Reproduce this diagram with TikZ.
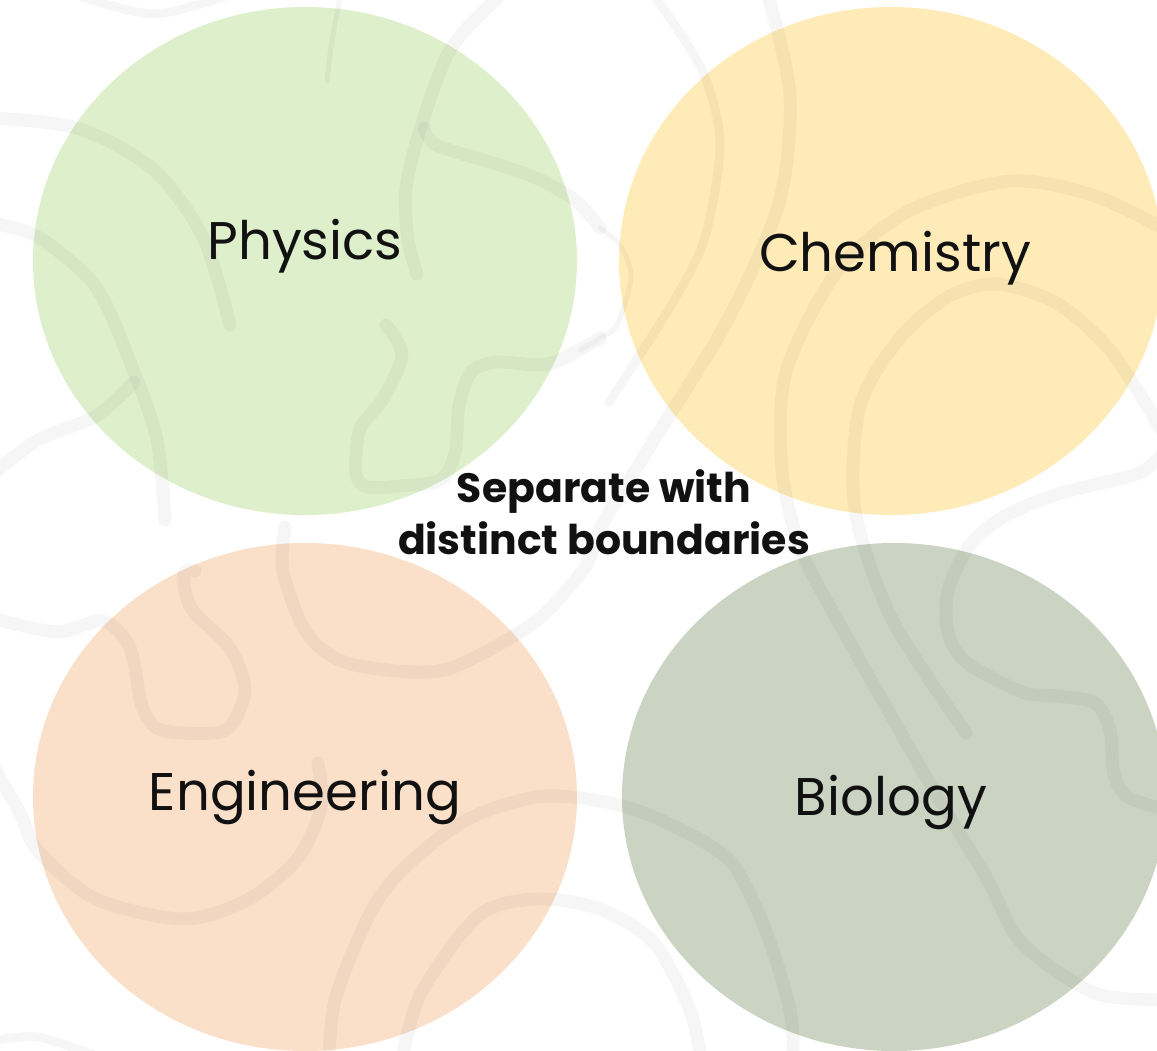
\documentclass[tikz,border=0pt]{standalone}
\usepackage{fontspec}
\setmainfont{Poppins}
\begin{document}
\begin{tikzpicture}[x=1pt,y=-1pt,
  label/.style={text=inkblack,font=\fontsize{53}{60}\selectfont,anchor=center},
  title/.style={text=inkblack,font=\fontsize{41}{52}\selectfont\bfseries,align=center},
  thick swirl/.style={draw=black,draw opacity=0.035,line width=13pt,line cap=round,line join=round},
  mid swirl/.style={draw=black,draw opacity=0.035,line width=9pt,line cap=round,line join=round},
  thin swirl/.style={draw=black,draw opacity=0.035,line width=5pt,line cap=round,line join=round}]
\definecolor{inkblack}{HTML}{111111}
\definecolor{physgreen}{HTML}{DEEFCC}
\definecolor{chemyellow}{HTML}{FEEBB7}
\definecolor{engpeach}{HTML}{FADFC9}
\definecolor{biosage}{HTML}{CBD3C2}
\useasboundingbox (0,0) rectangle (1157,1050);
\fill[white] (0,0) rectangle (1157,1050);
\begin{scope}
\clip (0,0) rectangle (1157,1050);
% four discs
\fill[physgreen] (305,261) ellipse [x radius=272, y radius=254];
\fill[chemyellow] (891,261) ellipse [x radius=272, y radius=254];
\fill[engpeach] (305,797) ellipse [x radius=272, y radius=254];
\fill[biosage] (894,797) ellipse [x radius=272, y radius=254];
% faint background swirls
\draw[mid swirl] plot[smooth] coordinates {(80,-4) (153,14) (226,-4)};
\draw[thin swirl] plot[smooth] coordinates {(340,-2) (332,40) (327,81)};
\draw[thick swirl] plot[smooth] coordinates {(497,-2) (450,50) (420,130) (406,189) (408,240) (417,274)};
\draw[thick swirl] plot[smooth] coordinates {(424,128) (436,145) (490,162) (536,178) (575,200) (600,228)};
\draw[thin swirl] plot[smooth] coordinates {(600,228) (620,245) (631,277) (617,325) (600,338) (580,350)};
\draw[thick swirl] plot[smooth] coordinates {(600,338) (560,360) (536,365) (497,362) (471,372) (459,406) (455,453) (440,480) (400,486) (367,487) (356,473) (360,429) (383,399) (402,355) (386,325)};
\draw[thick swirl] plot[smooth] coordinates {(-8,118) (77,128) (153,169) (203,237) (230,325)};
\draw[thick swirl] plot[smooth] coordinates {(-8,223) (38,237) (96,287) (134,372) (157,440) (165,520)};
\draw[thick swirl] plot[smooth] coordinates {(134,382) (96,416) (38,440) (-8,475)};
\draw[mid swirl] plot[smooth] coordinates {(654,-4) (701,68) (720,142) (705,237) (672,304) (609,402)};
\draw[thick swirl] plot[smooth] coordinates {(768,-4) (790,95) (779,203) (727,321) (654,440) (602,525) (585,567) (536,621) (459,665) (413,672) (344,662) (306,632) (283,571) (285,527)};
\draw[thick swirl] plot[smooth] coordinates {(1170,232) (1095,196) (1011,181) (911,210) (838,270) (786,372) (782,470) (801,550) (838,621) (930,784) (985,875) (1022,943) (1095,993) (1170,1000)};
\draw[thick swirl] plot[smooth] coordinates {(1170,445) (1114,355) (1058,304) (996,284) (948,297) (900,338) (860,406) (855,510) (893,621) (966,733)};
\draw[thick swirl] plot[smooth] coordinates {(1165,450) (1139,473) (1058,494) (1003,517) (970,545) (948,590) (948,632) (966,662) (1022,692) (1058,696) (1095,703) (1110,730) (1114,774) (1128,797) (1170,811)};
\draw[thick swirl] plot[smooth] coordinates {(329,1060) (337,993) (383,892) (459,824) (536,797) (600,801) (654,817) (727,858) (764,926) (790,1010) (793,1060)};
\draw[thick swirl] plot[smooth] coordinates {(402,1060) (421,993) (478,916) (536,899) (600,909) (654,943) (690,1010) (701,1060)};
\draw[thick swirl] plot[smooth] coordinates {(-8,618) (57,632) (103,621) (130,648) (142,706) (161,730) (214,733) (233,723) (245,689) (230,648) (191,608) (184,574) (195,571)};
\draw[thick swirl] plot[smooth] coordinates {(-8,765) (19,811) (38,851) (96,899) (184,919) (249,899) (298,858) (321,807) (318,763)};
\draw[mid swirl] plot[smooth] coordinates {(-8,1041) (38,1037) (96,1056)};
\end{scope}
% labels
\node[label] (phys) at (305,246) {Physics};
\node[label] (chem) at (895,258) {Chemistry};
\node[label] (eng) at (305,797) {Engineering};
\node[label] (bio) at (891,802) {Biology};
\node[title] (sep) at (604,512) {Separate with\\distinct boundaries};
\end{tikzpicture}
\end{document}
